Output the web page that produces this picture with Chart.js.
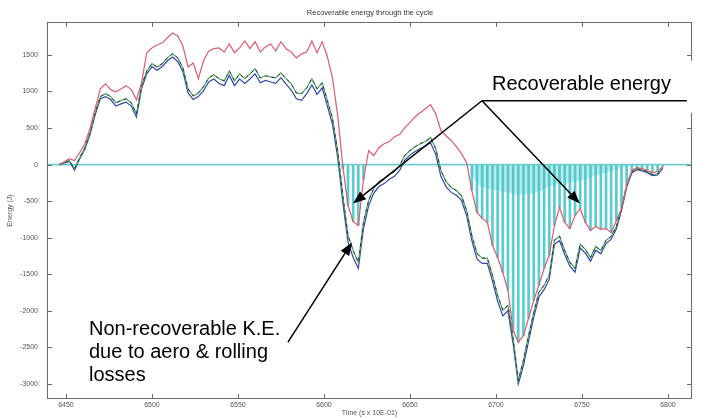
<!DOCTYPE html>
<html>
<head>
<meta charset="utf-8">
<script src="https://cdn.jsdelivr.net/npm/chart.js@4.4.1/dist/chart.umd.min.js"></script>
<style>
  html, body { margin: 0; padding: 0; background: #fff; }
  #wrap { position: relative; width: 702px; height: 419px; overflow: hidden; font-family: "Liberation Sans", Arial, sans-serif; }
  #wrap canvas { position: absolute; left: 0; top: 0; }
  .note { position: absolute; font-size: 20px; color: #000; white-space: nowrap; }
  #title { position: absolute; left: 250px; width: 240px; top: 8px; text-align: center; font-size: 7.5px; color: #333; }
</style>
</head>
<body>
<div id="wrap">
  <canvas id="energy" width="702" height="419"></canvas>
  <div id="title">Recoverable energy through the cycle</div>
  <div class="note" style="left:492px; top:73px; line-height:20px;">Recoverable energy</div>
  <div class="note" style="left:89px; top:317px; line-height:23px;">Non-recoverable K.E.<br>due to aero &amp; rolling<br>losses</div>
</div>
<script>
// time axis (s x 10E-01)
const time = [
  6446, 6449, 6452, 6455, 6458, 6461, 6464, 6467, 6470, 6473,
  6476, 6479, 6482, 6485, 6488, 6491, 6494, 6497, 6500, 6503,
  6506, 6509, 6512, 6515, 6518, 6521, 6524, 6527, 6530, 6533,
  6536, 6539, 6542, 6545, 6548, 6551, 6554, 6557, 6560, 6563,
  6566, 6569, 6572, 6575, 6578, 6581, 6584, 6587, 6590, 6593,
  6596, 6599, 6602, 6605, 6608, 6611, 6614, 6617, 6620, 6623,
  6626, 6629, 6632, 6635, 6638, 6641, 6644, 6647, 6650, 6653,
  6656, 6659, 6662, 6665, 6668, 6671, 6674, 6677, 6680, 6683,
  6686, 6689, 6692, 6695, 6698, 6701, 6704, 6707, 6710, 6713,
  6716, 6719, 6722, 6725, 6728, 6731, 6734, 6737, 6740, 6743,
  6746, 6749, 6752, 6755, 6758, 6761, 6764, 6767, 6770, 6773,
  6776, 6779, 6782, 6785, 6788, 6791, 6794, 6797
];

// energy traces (J)
const energyRed = [
  0, 40, 80, 55, 165, 285, 490, 765, 1035, 1105,
  1025, 995, 1035, 1080, 1025, 885, 1120, 1530, 1595, 1635,
  1665, 1735, 1800, 1760, 1625, 1335, 1390, 1175, 1420, 1555,
  1585, 1595, 1540, 1650, 1530, 1595, 1690, 1585, 1680, 1540,
  1610, 1650, 1555, 1680, 1585, 1540, 1460, 1515, 1540, 1690,
  1530, 1680, 1475, 1185, 670, -20, -560, -780, -830, -200,
  190, 125, 230, 285, 315, 380, 410, 505, 575, 655,
  710, 765, 820, 695, 465, 395, 330, 245, 150, 25,
  -355, -655, -735, -790, -1105, -1270, -1475, -1720, -2265, -2430,
  -2335, -2100, -1855, -1650, -1420, -1240, -830, -585, -790, -875,
  -695, -600, -790, -900, -845, -885, -875, -930, -765, -600,
  -285, -80, -40, -55, -80, -110, -95, -25
];

const energyGreen = [
  0, 25, 55, -55, 95, 230, 435, 710, 930, 970,
  930, 845, 875, 900, 845, 695, 1080, 1280, 1380, 1335,
  1380, 1460, 1515, 1460, 1325, 1035, 940, 980, 1065, 1185,
  1230, 1175, 1145, 1280, 1145, 1240, 1175, 1240, 1310, 1185,
  1215, 1200, 1185, 1255, 1175, 1105, 980, 970, 1050, 1175,
  1035, 1120, 875, 630, 190, -425, -970, -1175, -1335, -790,
  -490, -325, -230, -190, -135, -95, -15, 125, 190, 245,
  285, 315, 370, 220, -80, -230, -315, -355, -425, -630,
  -970, -1215, -1280, -1280, -1515, -1790, -1990, -1925, -2375, -2950,
  -2675, -2335, -2020, -1745, -1650, -1515, -1035, -980, -1175, -1335,
  -1420, -1090, -1160, -1270, -1120, -1175, -1035, -980, -845, -600,
  -285, -95, -55, -70, -95, -135, -125, -40
];

const energyBlue = [
  0, 20, 45, -75, 80, 210, 410, 680, 900, 930,
  890, 800, 830, 855, 800, 650, 1040, 1240, 1340, 1290,
  1340, 1420, 1470, 1410, 1270, 980, 890, 930, 1010, 1130,
  1170, 1110, 1080, 1220, 1080, 1170, 1110, 1170, 1240, 1120,
  1150, 1130, 1110, 1190, 1100, 1020, 900, 880, 970, 1090,
  960, 1050, 800, 550, 100, -520, -1060, -1270, -1420, -880,
  -560, -390, -300, -260, -200, -160, -80, 60, 130, 180,
  220, 250, 300, 140, -160, -300, -380, -420, -490, -700,
  -1040, -1290, -1350, -1350, -1590, -1870, -2070, -2000, -2450, -3000,
  -2750, -2410, -2090, -1810, -1710, -1570, -1090, -1040, -1230, -1390,
  -1470, -1140, -1210, -1320, -1170, -1220, -1080, -1020, -880, -630,
  -310, -115, -70, -85, -110, -150, -140, -50
];

// recoverable energy stems
const recTime = [
  6611, 6614, 6617, 6620, 6623,
  6686, 6689, 6692, 6695, 6698, 6701, 6704, 6707, 6710, 6713,
  6716, 6719, 6722, 6725, 6728, 6731, 6734, 6737, 6740, 6743,
  6746, 6749, 6752, 6755, 6758, 6761, 6764, 6767, 6770, 6773,
  6776, 6779, 6782, 6785, 6788, 6791, 6794, 6797
];
const recEnergy = [
  -60, -560, -780, -830, -200,
  -355, -655, -735, -790, -1105, -1270, -1475, -1720, -2265, -2430,
  -2335, -2100, -1855, -1650, -1420, -1240, -830, -585, -790, -875,
  -695, -600, -790, -900, -845, -885, -875, -930, -765, -600,
  -285, -80, -40, -55, -80, -110, -95, -25
];
// lighter band near the zero line (second recoverable region)
const bandEnergy = [
  -150, -260, -310, -330, -345, -355, -370, -385, -400, -410,
  -410, -400, -390, -370, -340, -300, -280, -260, -250, -240,
  -230, -220, -200, -180, -150, -130, -110, -90, -70, -50,
  -30, -20, -10, -10, -10, -10, -10, -10
];

const xTicks = [6450, 6500, 6550, 6600, 6650, 6700, 6750, 6800];
const yTicks = [-3000, -2500, -2000, -1500, -1000, -500, 0, 500, 1000, 1500];
const xRange = [6439, 6814];
const yRange = [-3205, 1950];

// callout geometry, in data units
const callout = {
  box: { x0: 6689.5, x1: 6825, y0: 1420, y1: 710 },
  apex: { x: 6691.9, y: 873 },
  ruleEnd: { x: 6811, y: 873 },
  tips: [{ x: 6616.9, y: -532 }, { x: 6748.8, y: -532 }],
  lossTail: { x: 6579.1, y: -2428 },
  lossTip: { x: 6616.3, y: -1064 }
};

const font = "'Liberation Sans', Arial, sans-serif";
const pts = (xs, ys) => xs.map((t, i) => ({ x: t, y: ys[i] }));

function arrow(ctx, x0, y0, x1, y1) {
  const a = Math.atan2(y1 - y0, x1 - x0), len = 13, half = 5;
  const bx = x1 - len * Math.cos(a), by = y1 - len * Math.sin(a);
  ctx.beginPath(); ctx.moveTo(x0, y0); ctx.lineTo(bx, by); ctx.stroke();
  ctx.beginPath();
  ctx.moveTo(x1, y1);
  ctx.lineTo(bx + half * Math.sin(a), by - half * Math.cos(a));
  ctx.lineTo(bx - half * Math.sin(a), by + half * Math.cos(a));
  ctx.closePath(); ctx.fill();
}

// matlab style box with inner tick marks
const frame = {
  id: 'frame',
  afterDatasetsDraw(chart) {
    const { ctx, chartArea: a, scales: { x, y } } = chart;
    ctx.save();
    ctx.strokeStyle = '#6a6a6a';
    ctx.lineWidth = 1;
    ctx.strokeRect(a.left + 0.5, a.top + 0.5, a.right - a.left - 1, a.bottom - a.top - 1);
    ctx.beginPath();
    x.ticks.forEach(t => {
      const px = Math.round(x.getPixelForValue(t.value)) + 0.5;
      ctx.moveTo(px, a.bottom); ctx.lineTo(px, a.bottom - 5);
      ctx.moveTo(px, a.top); ctx.lineTo(px, a.top + 5);
    });
    y.ticks.forEach(t => {
      const py = Math.round(y.getPixelForValue(t.value)) + 0.5;
      ctx.moveTo(a.left, py); ctx.lineTo(a.left + 5, py);
      ctx.moveTo(a.right, py); ctx.lineTo(a.right - 5, py);
    });
    ctx.stroke();
    ctx.restore();
  }
};

const callouts = {
  id: 'callouts',
  afterDraw(chart) {
    const { ctx, scales: { x, y } } = chart;
    const X = v => x.getPixelForValue(v), Y = v => y.getPixelForValue(v);
    const b = callout.box;
    ctx.save();
    ctx.fillStyle = '#fff';
    ctx.fillRect(X(b.x0), Y(b.y0), X(b.x1) - X(b.x0), Y(b.y1) - Y(b.y0));
    ctx.strokeStyle = '#000';
    ctx.fillStyle = '#000';
    ctx.lineWidth = 1.5;
    const ax = X(callout.apex.x), ay = Y(callout.apex.y);
    ctx.beginPath();
    ctx.moveTo(ax, ay); ctx.lineTo(X(callout.ruleEnd.x), Y(callout.ruleEnd.y));
    ctx.stroke();
    callout.tips.forEach(p => arrow(ctx, ax, ay, X(p.x), Y(p.y)));
    arrow(ctx, X(callout.lossTail.x), Y(callout.lossTail.y), X(callout.lossTip.x), Y(callout.lossTip.y));
    ctx.restore();
  }
};

const line = (label, data, color, order, extra) => Object.assign({
  type: 'line', label, data, borderColor: color, borderWidth: 1.2,
  pointRadius: 0, tension: 0, fill: false, order
}, extra || {});

new Chart(document.getElementById('energy'), {
  type: 'line',
  data: {
    datasets: [
      line('Red', pts(time, energyRed), 'rgb(222,92,112)', 1),
      line('Dashed', pts(time, energyGreen), 'rgba(25,40,55,0.85)', 2, { borderDash: [3, 4], borderWidth: 1 }),
      line('Green', pts(time, energyGreen), 'rgb(80,165,95)', 3),
      line('Blue', pts(time, energyBlue), 'rgb(50,70,170)', 4),
      line('Zero', [{ x: xRange[0], y: 0 }, { x: xRange[1], y: 0 }], 'rgb(110,205,205)', 5, { borderWidth: 1.6 }),
      {
        type: 'bar', label: 'Recoverable', data: pts(recTime, recEnergy),
        backgroundColor: 'rgba(70,198,202,0.9)', borderWidth: 0, barThickness: 2, order: 10
      },
      line('Band', pts(recTime.slice(5), bandEnergy), 'rgba(0,0,0,0)', 11,
        { borderWidth: 0, fill: 'origin', backgroundColor: 'rgba(120,214,214,0.5)' })
    ]
  },
  options: {
    responsive: false,
    animation: false,
    devicePixelRatio: 1,
    layout: { padding: { top: 22, right: 10, left: 0, bottom: 0 } },
    plugins: { legend: { display: false }, tooltip: { enabled: false }, title: { display: false } },
    scales: {
      x: {
        type: 'linear', min: xRange[0], max: xRange[1], offset: false,
        grid: { display: false, drawTicks: false }, border: { display: false },
        afterBuildTicks: s => { s.ticks = xTicks.map(v => ({ value: v })); },
        afterFit: s => { s.height = 20; },
        ticks: { padding: 2, color: '#555', font: { size: 7, family: font }, maxRotation: 0, autoSkip: false, callback: v => String(v) },
        title: { display: true, text: 'Time (s x 10E-01)', color: '#555', font: { size: 7, family: font }, padding: { top: 0, bottom: 2 } }
      },
      y: {
        type: 'linear', min: yRange[0], max: yRange[1],
        grid: { display: false, drawTicks: false }, border: { display: false },
        afterBuildTicks: s => { s.ticks = yTicks.map(v => ({ value: v })); },
        afterFit: s => { s.width = 47; },
        ticks: { padding: 9, color: '#555', font: { size: 7, family: font }, autoSkip: false, callback: v => String(v) },
        title: { display: true, text: 'Energy (J)', color: '#555', font: { size: 7, family: font }, padding: { top: 6, bottom: 0 } }
      }
    }
  },
  plugins: [frame, callouts]
});
</script>
</body>
</html>
